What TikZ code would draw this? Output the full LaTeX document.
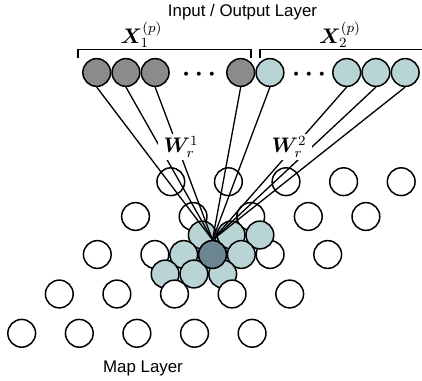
\documentclass[tikz,border=0pt]{standalone}
\usepackage{fontspec}
\setsansfont{Liberation Sans}
\usepackage{bm}
\usetikzlibrary{positioning,calc}
\definecolor{ingray}{HTML}{898C89}
\definecolor{outteal}{HTML}{B8D4D4}
\definecolor{bmu}{HTML}{6C8592}
\tikzset{
  unit/.style={circle, draw, fill=white, line width=0.85pt, minimum size=0.555cm, inner sep=0pt},
  inunit/.style={unit, fill=ingray},
  outunit/.style={unit, fill=outteal},
  winner/.style={unit, fill=bmu},
  wire/.style={line width=0.75pt},
  brace/.style={line width=0.8pt},
  layer/.style={font=\sffamily\fontsize{9.6}{11}\selectfont, inner sep=0pt},
  part/.style={font=\fontsize{12}{14}\selectfont, inner sep=0pt},
  weight/.style={part, fill=white, inner xsep=3pt, inner ysep=1.2pt},
}

\begin{document}
\begin{tikzpicture}[x=0.02cm, y=-0.02cm]
    \useasboundingbox (0,0) rectangle (422,381);

    \foreach \y/\x [count=\r] in {181.7/170.8, 216.5/135.5, 254.5/97.3}
      \foreach \c in {0,...,4}
        \node[unit] (m\r\c) at (\x+57.6*\c, \y) {};

    \coordinate (c) at (212.5,254.5);
    \foreach \j in {1,0,-1}
      \foreach \i in {-1,0,1}
        \node[outunit] (nb\i\j) at ($(c)+(28.8*\i+18.6*\j, -19.5*\j)$) {};
    \node[winner] (win) at (c) {};

    \foreach \y/\x [count=\r from 4] in {294/59.3, 333.3/21.7}
      \foreach \c in {0,...,4}
        \node[unit] (m\r\c) at (\x+57.6*\c, \y) {};

    \node[inunit] (x1a) at (96.7,72.5) {};
    \node[inunit, right=0pt of x1a] (x1b) {};
    \node[inunit, right=0pt of x1b] (x1c) {};
    \node[part, font=\fontsize{14}{16}\selectfont] (dots1) at (199,74.5) {$\bm{\cdots}$};
    \node[inunit] (x1n) at (240.7,72.5) {};
    \node[outunit, right=0pt of x1n] (x2a) {};
    \node[part, font=\fontsize{14}{16}\selectfont] (dots2) at (309,74.5) {$\bm{\cdots}$};
    \node[outunit] (x2l) at (346.7,72.5) {};
    \node[outunit, right=0pt of x2l] (x2m) {};
    \node[outunit, right=0pt of x2m] (x2n) {};

    \draw[brace] (78,58) -- (78,49.5) -- (251,49.5) -- (251,58);
    \draw[brace] (260,58) -- (260,49.5) -- (422,49.5);
    \node[part, anchor=base] (lx1) at (141.5,43.3) {$\bm{X}_1^{(p)}$};
    \node[part, anchor=base] (lx2) at (340,43.3) {$\bm{X}_2^{(p)}$};
    \node[layer, anchor=base] (io) at (242.5,16.7) {Input / Output Layer};
    \node[layer, anchor=base] (map) at (143,372.5) {Map Layer};

    \foreach \u in {x1a,x1b,x1c,x1n,x2a,x2l,x2m,x2n}
      \draw[wire] (\u.south) -- (win.north);

    \node[weight] (w1) at (181,147) {$\bm{W}_r^1$};
    \node[weight] (w2) at (289,147) {$\bm{W}_r^2$};
\end{tikzpicture}
\end{document}
